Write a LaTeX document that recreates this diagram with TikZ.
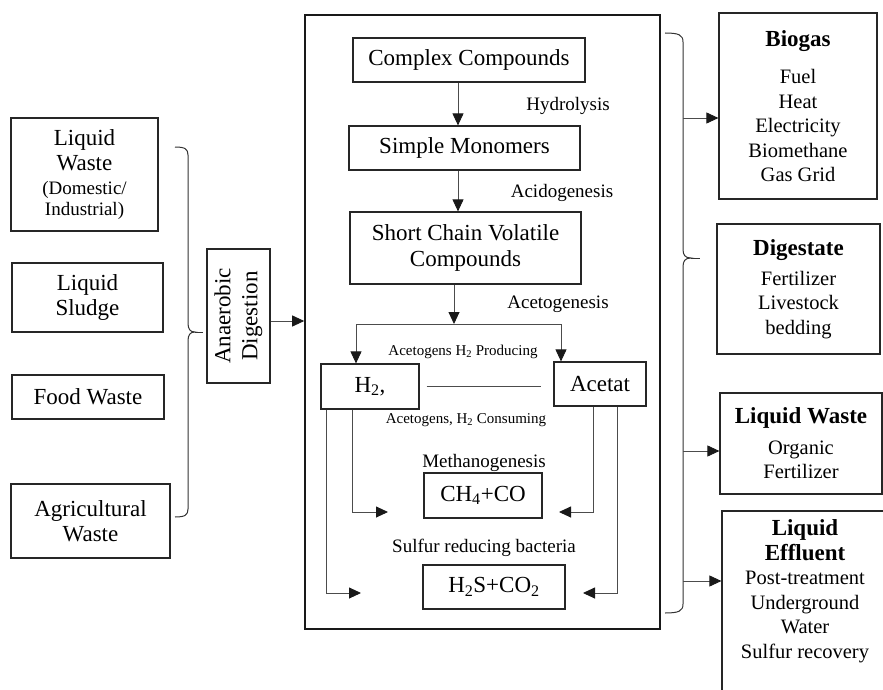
\documentclass[tikz,border=0pt]{standalone}
\usepackage{fontspec}
\usepackage{graphicx}
\setmainfont{Liberation Serif}
\usetikzlibrary{arrows.meta}
\newcommand\SzBox{\fontsize{23}{25.5}\selectfont}
\newcommand\SzLab{\fontsize{19}{22}\selectfont}
\newcommand\SzSmall{\fontsize{15}{18}\selectfont}
\newcommand\SzOut{\fontsize{20.5}{24.5}\selectfont}
\begin{document}
\begin{tikzpicture}[x=1pt,y=-1pt,
  box/.style={draw=black!85, line width=1.2pt, inner sep=0pt, align=center},
  conn/.style={draw=black!70, line width=0.9pt},
  arr/.style={conn, -{Triangle[length=12pt,width=11pt,color=black!90]}},
  lab/.style={inner sep=0pt, font=\SzLab},
  brace/.style={draw=black!80, line width=1pt},
]
\useasboundingbox (0,0) rectangle (883,690);

% ---- feedstock boxes ----
\node[box, font=\SzBox, minimum width=147pt, minimum height=113pt] (lw) at (84.5,174.5)
  {Liquid\\Waste\\[-2pt]{\SzLab (Domestic/}\\[-4pt]{\SzLab Industrial)}};
\node[box, font=\SzBox, minimum width=151pt, minimum height=69pt] (ls) at (87.5,297.5) {Liquid\\Sludge};
\node[box, font=\SzBox, minimum width=152pt, minimum height=44pt] (fw) at (88,397) {Food Waste};
\node[box, font=\SzBox, minimum width=159pt, minimum height=74pt] (aw) at (90.5,521) {Agricultural\\Waste};

% left brace
\draw[brace] (175,147) .. controls (185,147) and (188,149) .. (188,155) -- (188,323)
  .. controls (188,329) and (190,332) .. (195,332)
  .. controls (190,332) and (188,335) .. (188,341) -- (188,509)
  .. controls (188,515) and (185,517) .. (175,517);
\draw[brace] (195,332) -- (203,332);

% ---- digester ----
\node[box, minimum width=63pt, minimum height=134pt] (ad) at (238.5,316)
  {\rotatebox{90}{\fontsize{23}{27}\selectfont\begin{tabular}{@{}c@{}}Anaerobic\\Digestion\end{tabular}}};
\node[draw=black!90, line width=1.6pt, minimum width=355pt, minimum height=614pt, inner sep=0pt] (main) at (482.5,322) {};
\draw[arr] ([yshift=-5pt]ad.east) -- ([yshift=-5pt]ad.east -| main.west);

% process chain
\node[box, font=\SzBox, minimum width=232pt, minimum height=44pt] (cc) at (469,60) {Complex Compounds};
\node[box, font=\SzBox, minimum width=231pt, minimum height=44pt] (sm) at (464.5,148) {Simple Monomers};
\node[box, font=\SzBox, minimum width=231pt, minimum height=72pt] (sc) at (465.5,248) {Short Chain Volatile\\Compounds};
\draw[arr] ([xshift=-11pt]cc.south) -- ([xshift=-11pt]cc.south |- sm.north);
\draw[arr] ([xshift=-6.5pt]sm.south) -- ([xshift=-6.5pt]sm.south |- sc.north);

\node[lab] (hyd) at (568,106) {Hydrolysis};
\node[lab] (acid) at (562,193) {Acidogenesis};
\node[lab] (acet) at (558,304) {Acetogenesis};

\node[box, font=\SzBox, minimum width=98pt, minimum height=45pt] (h2) at (370,386.5) {H\textsubscript{2},};
\node[box, font=\SzBox, minimum width=92pt, minimum height=44pt] (ac) at (600,384) {Acetat};

\coordinate (split) at (454,324);
\coordinate (sL) at (356,324);
\coordinate (sR) at (561,324);
\draw[arr] ([xshift=-11.5pt]sc.south) -- (split);
\draw[conn] (sL) -- (sR);
\draw[arr] (sL) -- (sL |- h2.north);
\draw[arr] (sR) -- (sR |- ac.north);
\draw[conn] ([xshift=7pt]h2.east) -- ([xshift=-12pt]ac.west |- h2.east);

\node[inner sep=0pt, font=\SzSmall] (prod) at (463,352) {Acetogens H\textsubscript{2} Producing};
\node[inner sep=0pt, font=\SzSmall] (cons) at (466,420) {Acetogens, H\textsubscript{2} Consuming};
\node[lab] (meth) at (484,463) {Methanogenesis};
\node[box, font=\SzBox, minimum width=118pt, minimum height=45pt] (ch4) at (483,495.5) {CH\textsubscript{4}+CO};
\node[lab] (srb) at (484,548) {Sulfur reducing bacteria};
\node[box, font=\SzBox, minimum width=142pt, minimum height=44pt] (h2s) at (494,587) {H\textsubscript{2}S+CO\textsubscript{2}};

\coordinate (mL) at (388,512);
\coordinate (tL) at (361,593);
\coordinate (mR) at (559,512);
\coordinate (tR) at (583,593);
\draw[arr] ([xshift=-18pt]h2.south) |- (mL);
\draw[arr] ([xshift=-44pt]h2.south) |- (tL);
\draw[arr] ([xshift=-7pt]ac.south) |- (mR);
\draw[arr] ([xshift=17pt]ac.south) |- (tR);

% right brace
\draw[brace] (665,33) .. controls (679,33) and (683,35) .. (683,42) -- (683,249)
  .. controls (683,255) and (685,258) .. (691,258)
  .. controls (685,258) and (683,261) .. (683,267) -- (683,604)
  .. controls (683,611) and (679,613) .. (665,613);
\draw[brace] (691,258) -- (700,258);

% ---- products ----
\node[box, font=\SzOut, minimum width=158pt, minimum height=186pt] (bio) at (798,106)
  {\textbf{\SzBox Biogas}\\[13pt]Fuel\\Heat\\Electricity\\Biomethane\\Gas Grid};
\node[box, font=\SzOut, minimum width=163pt, minimum height=130pt] (dig) at (798.5,289)
  {\textbf{\SzBox Digestate}\\[5pt]Fertilizer\\Livestock\\bedding};
\node[box, font=\SzOut, minimum width=162pt, minimum height=101pt] (lwo) at (801,443.5)
  {\textbf{\SzBox Liquid Waste}\\[6pt]Organic\\Fertilizer};
\node[box, minimum width=166pt, minimum height=189pt] (le) at (805,605.5) {};
\node[font=\SzOut, align=center, anchor=north, inner sep=0pt] (letext) at ([yshift=-9pt]le.north)
  {\textbf{\SzBox Liquid}\\\textbf{\SzBox Effluent}\\Post-treatment\\Underground\\Water\\Sulfur recovery};

\coordinate (b1) at (683,118);
\coordinate (b2) at (683,451);
\coordinate (b3) at (683,581);
\draw[arr] (b1) -- (b1 -| bio.west);
\draw[arr] (b2) -- (b2 -| lwo.west);
\draw[arr] (b3) -- (b3 -| le.west);
\end{tikzpicture}
\end{document}
